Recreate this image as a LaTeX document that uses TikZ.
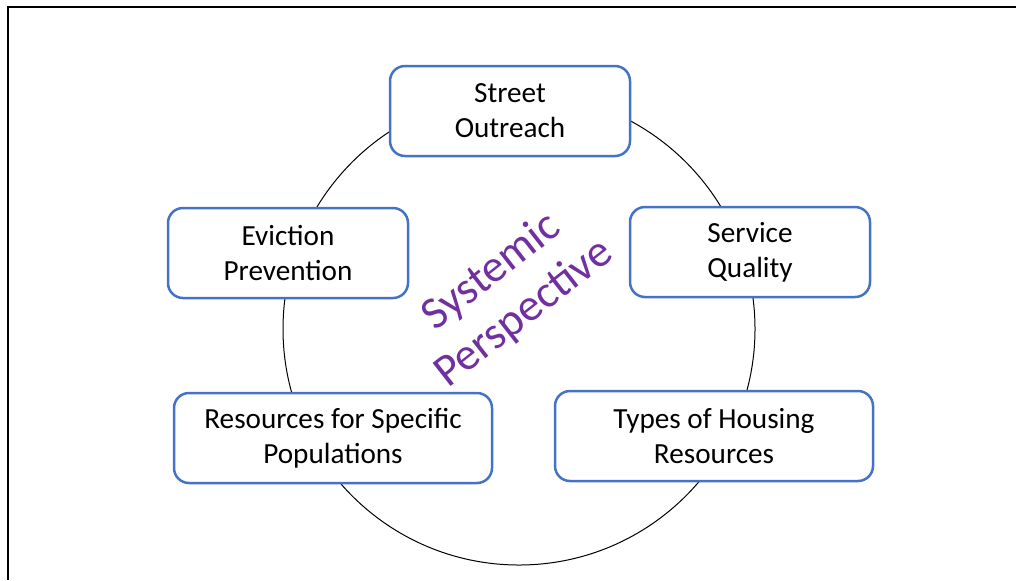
\documentclass[tikz,border=0pt]{standalone}
\usepackage{fontspec}
\setmainfont{Carlito}
\usetikzlibrary{positioning}
\definecolor{boxblue}{HTML}{4472C4}
\definecolor{titlepurple}{HTML}{7030A0}
\begin{document}
\begin{tikzpicture}[x=0.5pt,y=-0.5pt,
	topic/.style={rectangle,rounded corners=7.5pt,draw=boxblue,line width=1.25pt,fill=white,align=center,
		minimum width=120pt,minimum height=45pt,font=\fontsize{14.6}{17.5}\selectfont},
	wide/.style={topic,minimum width=159pt},
	ring/.style={circle,draw=black,line width=0.5pt,minimum size=236pt,inner sep=0pt}]
	
	\useasboundingbox (0,0) rectangle (1016,580);
	\draw[line width=1.25pt] (8,580) -- (8,7) -- (1016,7);
	
	\node[ring] (cycle) at (519,329) {};
	
	\node[topic] (street) at (510,111) {Street\\Outreach};
	\node[topic] (eviction) at (288,253) {Eviction\\Prevention};
	\node[topic] (service) at (750,252) {Service\\Quality};
	\node[wide] (specific) at (333,438) {Resources for Specific\\Populations};
	\node[wide] (housing) at (714,436) {Types of Housing\\Resources};
	
	\node[rotate=38,align=center,text=titlepurple,font=\fontsize{22.8}{26.5}\selectfont] (title) at (508,293) {Systemic\\Perspective};
	
\end{tikzpicture}
\end{document}
